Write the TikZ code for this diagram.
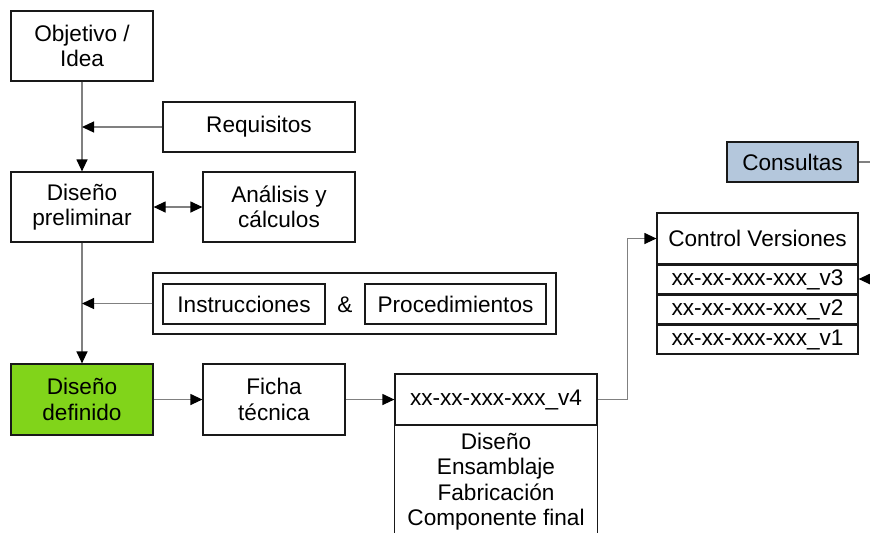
\documentclass[tikz,border=0pt]{standalone}
\usepackage{fontspec}
\setmainfont{Liberation Sans}
\usetikzlibrary{arrows.meta}
\definecolor{limegreen}{HTML}{81D41A}
\definecolor{lightblue}{HTML}{B4C7DC}
\definecolor{linegray}{HTML}{808080}
\begin{document}
\begin{tikzpicture}[x=0.5pt,y=-0.5pt,
    font=\fontsize{11.3}{12.7}\selectfont,
    box/.style={draw=black!90,line width=0.6pt,inner sep=0pt,align=center},
    row/.style={box,anchor=north,minimum width=100.5pt,minimum height=14.4pt},
    link/.style={draw=linegray,line width=0.6pt,-{Triangle[color=black,length=6pt,width=5.5pt]}},
    biglink/.style={draw=linegray,line width=0.6pt,{Triangle[color=black,length=6pt,width=5.5pt]}-{Triangle[color=black,length=6pt,width=5.5pt]}}]
      \useasboundingbox (0,0) rectangle (870,532);
      \clip (0,0) rectangle (870,532);
      % left column
      \node[box,minimum width=71pt,minimum height=35pt] (idea) at (82,46) {Objetivo /\\Idea};
      \node[box,minimum width=96pt,minimum height=25pt,text depth=2.4pt] (req) at (259,127) {Requisitos};
      \node[box,minimum width=71pt,minimum height=35pt] (prelim) at (82,207) {Diseño\\preliminar};
      \node[box,minimum width=76pt,minimum height=35pt] (calc) at (279,207) {Análisis y\\cálculos};
      \node[box,minimum width=201.5pt,minimum height=30.5pt] (docs) at (354.5,303.5) {};
      \node[box,minimum width=81pt,minimum height=20pt] (instr) at (244,304) {Instrucciones};
      \node (amp) at (345,305) {\&};
      \node[box,minimum width=90.5pt,minimum height=20pt] (proc) at (455.5,304) {Procedimientos};
      \node[box,fill=limegreen,minimum width=71pt,minimum height=35.5pt] (defin) at (82,399.5) {Diseño\\definido};
      \node[box,minimum width=71pt,minimum height=35.5pt] (ficha) at (274,399.5) {Ficha\\técnica};
      % version box
      \node[box,minimum width=101pt,minimum height=25.5pt] (v4) at (496,399.5) {xx-xx-xxx-xxx\_v4};
      \draw[black!90,line width=0.6pt] (v4.south west) -- (v4.south west |- 0,560);
      \draw[black!90,line width=0.6pt] (v4.south east) -- (v4.south east |- 0,560);
      \node[anchor=north,align=center,inner sep=0pt] (v4body) at ([yshift=-3.5pt]v4.south) {Diseño\\Ensamblaje\\Fabricación\\Componente final};
      % right side
      \node[box,minimum width=100.5pt,minimum height=25.5pt] (ctrl) at (757.5,238.5) {Control Versiones};
      \node[row] (v3) at (ctrl.south) {xx-xx-xxx-xxx\_v3};
      \node[row] (v2) at (v3.south) {xx-xx-xxx-xxx\_v2};
      \node[row] (v1) at (v2.south) {xx-xx-xxx-xxx\_v1};
      \node[box,fill=lightblue,minimum width=65.5pt,minimum height=20pt] (cons) at (792.5,162) {Consultas};
      \coordinate (edgeA) at (872,279);
      \coordinate (edgeB) at (872,162);
      % connectors
      \draw[link] (idea) -- (prelim);
      \draw[link] (req.west) -- (req.west -| idea.south);
      \draw[biglink] (prelim) -- (calc);
      \draw[link] (prelim) -- (defin);
      \draw[link] (docs.west) -- (docs.west -| prelim.south);
      \draw[link] (defin) -- (ficha);
      \draw[link] (ficha) -- (v4);
      \draw[link] (v4.east) -- ++(30,0) |- (ctrl.west);
      \draw[link] (edgeA) -- (edgeA -| v3.east);
      \draw[draw=linegray,line width=0.6pt] (cons) -- (edgeB);
\end{tikzpicture}
\end{document}
